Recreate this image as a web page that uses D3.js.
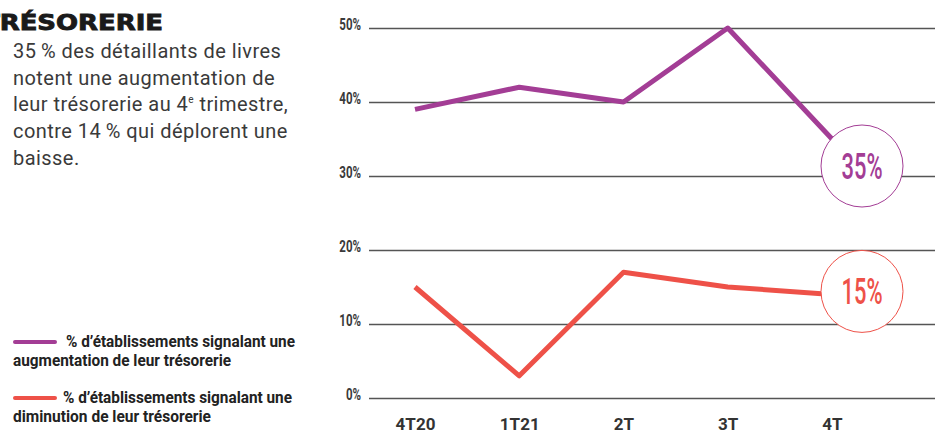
<!DOCTYPE html>
<html>
<head>
<meta charset="utf-8">
<script src="https://cdn.jsdelivr.net/npm/d3@7"></script>
<style>
  body { margin: 0; background: #fff; }
  svg { display: block; }
</style>
</head>
<body>
<svg id="chart"></svg>
<script>
// data
const quarters = ["4T20", "1T21", "2T", "3T", "4T"];
const hausse = [39, 42, 40, 50, 35];
const baisse = [15, 3, 17, 15, 14];
const yTicks = [0, 10, 20, 30, 40, 50];
const bubbleLabels = ["35%", "15%"];

const width = 935,
  height = 434;
const margin = { top: 28, bottom: 36, left: 369, right: 0 };

const purple = "#a33d95";
const red = "#ee5148";
const cond = "Roboto, 'Liberation Sans', sans-serif";

let svg = d3.select("#chart").attr("width", width).attr("height", height);

let xScale = d3
  .scalePoint()
  .domain(quarters)
  .range([415, 832]);

let yScale = d3
  .scaleLinear()
  .domain([0, 50])
  .range([height - margin.bottom, margin.top]);

// grid + y labels
let yAxis = svg
  .append("g")
  .attr("transform", `translate(${margin.left}, 0)`)
  .call(
    d3
      .axisLeft(yScale)
      .tickValues(yTicks)
      .tickSize(-(width - margin.left))
      .tickPadding(11)
      .tickFormat((d) => d + "%")
  );
yAxis.select(".domain").remove();
yAxis.selectAll(".tick line").attr("stroke", "#555").attr("stroke-width", 1.3);
yAxis
  .selectAll(".tick text")
  .attr("font-family", cond)
  .attr("font-size", "16px")
  .attr("font-weight", "bold")
  .attr("fill", "#3a3a3a")
  .attr("dy", "0.12em")
  .attr("transform", "scale(0.72,1)");

// x labels
let xAxis = svg
  .append("g")
  .attr("transform", `translate(0, ${height - margin.bottom})`)
  .call(d3.axisBottom(xScale).tickSize(0).tickPadding(20));
xAxis.select(".domain").remove();
xAxis
  .selectAll(".tick text")
  .attr("font-family", cond)
  .attr("font-size", "17px")
  .attr("font-weight", "bold")
  .attr("fill", "#333")
  .attr("dy", "0.71em");

let line = d3
  .line()
  .x((d, i) => xScale(quarters[i]))
  .y((d) => yScale(d));

svg
  .append("path")
  .datum(hausse)
  .attr("d", line)
  .attr("fill", "none")
  .attr("stroke", purple)
  .attr("stroke-width", 5)
  .attr("stroke-linejoin", "round");

svg
  .append("path")
  .datum(baisse)
  .attr("d", line)
  .attr("fill", "none")
  .attr("stroke", red)
  .attr("stroke-width", 5)
  .attr("stroke-linejoin", "round");

// bubbles at last quarter
const last = quarters[quarters.length - 1];
const bubbles = [
  { label: bubbleLabels[0], color: purple, y: yScale(hausse[4]) + 27 },
  { label: bubbleLabels[1], color: red, y: yScale(baisse[4]) - 3 },
];
bubbles.forEach(function (b) {
  svg
    .append("circle")
    .attr("cx", xScale(last) + 30)
    .attr("cy", b.y)
    .attr("r", 41)
    .attr("fill", "#fff")
    .attr("stroke", b.color)
    .attr("stroke-width", 1);
  svg
    .append("text")
    .attr("x", xScale(last) + 30)
    .attr("y", b.y + 12.5)
    .attr("text-anchor", "middle")
    .attr("font-family", cond)
    .attr("font-size", "36px")
    .attr("font-weight", 500)
    .attr("fill", b.color)
    .attr("textLength", 41)
    .attr("lengthAdjust", "spacingAndGlyphs")
    .text(b.label);
});

// title and intro text
svg
  .append("text")
  .attr("x", -18)
  .attr("y", 30)
  .attr("font-family", "'DejaVu Sans', sans-serif")
  .attr("font-weight", "bold")
  .attr("font-size", "22px")
  .attr("fill", "#1a1a1a")
  .attr("stroke", "#1a1a1a")
  .attr("stroke-width", 0.9)
  .attr("textLength", 181)
  .attr("lengthAdjust", "spacingAndGlyphs")
  .text("TRÉSORERIE");

const intro = [
  "35\u2009% des détaillants de livres",
  "notent une augmentation de",
  "leur trésorerie au 4|e| trimestre,",
  "contre 14\u2009% qui déplorent une",
  "baisse.",
];
let introText = svg
  .append("text")
  .attr("font-family", "Roboto, sans-serif")
  .attr("font-weight", 400)
  .attr("font-size", "20px")
  .attr("letter-spacing", "0.45px")
  .attr("fill", "#3a3a3a");
intro.forEach(function (l, i) {
  let parts = l.split("|");
  let row = introText.append("tspan").attr("x", 13).attr("y", 58 + i * 26.7);
  parts.forEach(function (p, j) {
    if (j % 2 == 1) {
      row.append("tspan").attr("font-size", "10px").attr("dy", "-8").text(p);
    } else if (j > 0) {
      row.append("tspan").attr("dy", "8").text(p);
    } else {
      row.append("tspan").text(p);
    }
  });
});

// legend
const legend = [
  { color: purple, y: 342, lines: ["% d’établissements signalant une", "augmentation de leur trésorerie"], w: [229, 218] },
  { color: red, y: 398, lines: ["% d’établissements signalant une", "diminution de leur trésorerie"], w: [229, 198] },
];
legend.forEach(function (l) {
  svg
    .append("line")
    .attr("x1", 15)
    .attr("x2", 55)
    .attr("y1", l.y)
    .attr("y2", l.y)
    .attr("stroke", l.color)
    .attr("stroke-width", 4)
    .attr("stroke-linecap", "round");
  let x0 = l.color == purple ? 66 : 63;
  [0, 1].forEach(function (k) {
    svg
      .append("text")
      .attr("x", k == 0 ? x0 : 13)
      .attr("y", l.y + 5 + k * 19)
      .attr("font-family", cond)
      .attr("font-size", "16px")
      .attr("font-weight", "bold")
      .attr("fill", "#222")
      .attr("textLength", l.w[k])
      .attr("lengthAdjust", "spacingAndGlyphs")
      .text(l.lines[k]);
  });
});
</script>
</body>
</html>
